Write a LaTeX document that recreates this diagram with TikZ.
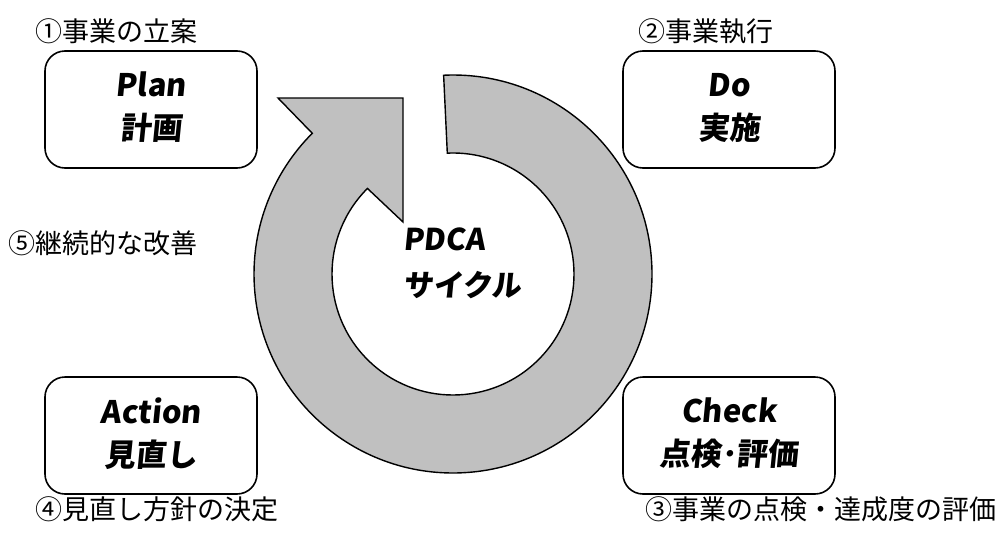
\documentclass[tikz,border=0pt]{standalone}
\usepackage{fontspec}
\setmainfont{Noto Sans CJK JP}
\newfontfamily\popfont{Noto Sans CJK JP}[FakeSlant=0.1]
\begin{document}
\begin{tikzpicture}[x=1pt,y=1pt,
  phasebox/.style={draw=black, line width=1.6pt, rounded corners=20pt, fill=white,
    minimum width=212pt, minimum height=117pt, inner sep=0pt},
  phasetext/.style={align=center, font=\popfont\bfseries\fontsize{31}{43}\selectfont},
  steplabel/.style={anchor=west, inner sep=0pt, font=\fontsize{27}{30}\selectfont},
  ringstyle/.style={draw=black, line width=1.4pt, fill=ringgray, line join=miter}]
\definecolor{ringgray}{HTML}{C0C0C0}
\useasboundingbox (0,0) rectangle (1003,-533);
\coordinate (C) at (453,-274);
% ring arrow
\draw[ringstyle] ([shift={(92.7:199)}]C) arc[start angle=92.7, end angle=-225, radius=199pt]
  -- (278,-98) -- (403,-98) -- (403,-222)
  -- ([shift={(135:121)}]C) arc[start angle=135, end angle=452.7, radius=121pt] -- cycle;
% boxes
\node[phasebox] (plan) at (151,-109.5) {};
\node[phasebox] (do) at (729,-109.5) {};
\node[phasebox] (act) at (151,-435.5) {};
\node[phasebox] (chk) at (729,-435.5) {};
\node[phasetext] (plant) at ([yshift=2]plan) {Plan\\計画};
\node[phasetext] (dot) at ([yshift=2]do) {Do\\実施};
\node[phasetext] (actt) at ([yshift=2]act) {Action\\見直し};
\node[phasetext] (chkt) at ([yshift=2]chk) {Check\\点検･評価};
% center
\node[anchor=west, align=left, inner sep=0pt, font=\popfont\bfseries\fontsize{30}{46}\selectfont] (pdca) at (403,-263) {PDCA\\サイクル};
% labels
\node[steplabel] (l1) at (35,-31) {①事業の立案};
\node[steplabel] (l2) at (638,-31) {②事業執行};
\node[steplabel] (l5) at (8,-243) {⑤継続的な改善};
\node[steplabel] (l4) at (35,-509) {④見直し方針の決定};
\node[steplabel] (l3) at (645,-509) {③事業の点検・達成度の評価};
\end{tikzpicture}
\end{document}
